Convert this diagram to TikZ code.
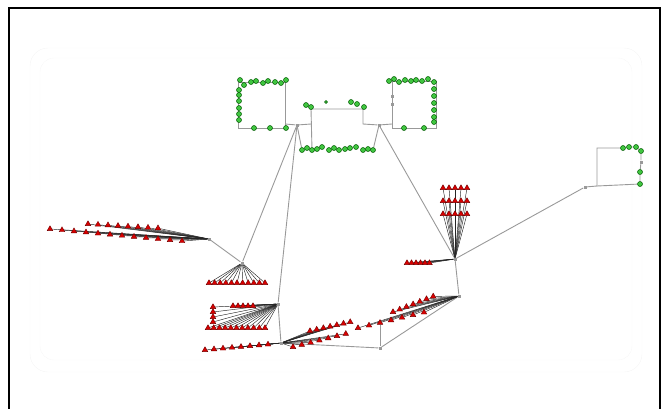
\documentclass[tikz,border=0pt]{standalone}
\usetikzlibrary{shapes,backgrounds}

\begin{document}
\begin{tikzpicture}[x=1pt,y=-1pt,
  gnode/.style={circle,draw=green!35!black,fill=green!70!black!75,line width=0.5pt,inner sep=0pt,minimum size=5pt},
  rnode/.style={regular polygon,regular polygon sides=3,draw=red!45!black,fill=red!85!black,line width=0.4pt,inner sep=0pt,minimum size=6.5pt},
  hub/.style={rectangle,fill=gray!80,inner sep=0pt,minimum size=3pt},
  link/.style={gray!80,line width=0.9pt},
  spoke/.style={black!85,line width=0.45pt},
]
\useasboundingbox (0,0) rectangle (668,408);

% === FRAME ===
\draw[line width=1.3pt] (9,410) -- (9,8) -- (660,8) -- (660,410);
\draw[black!4,rounded corners=18pt] (30,48) rectangle (642,372);
\draw[black!3,rounded corners=14pt] (40,58) rectangle (632,360);

% === TOP GREEN: left box ===
\coordinate (lbox-tl) at (238,82);
\coordinate (lbox-tr) at (285,82);
\coordinate (lbox-br) at (285,128);
\coordinate (lbox-bl) at (238,128);
\coordinate (lbox-j) at (285,124);
\foreach \x/\y [count=\i] in {240/80,244/85,251/82,256/81,263/83,268/81,275/82,281/83,286/80}
  \node[gnode] (lbt-\i) at (\x,\y) {};
\foreach \y [count=\i] in {90,95,101,108,114,120}
  \node[gnode] (lbl-\i) at (239,\y) {};
\foreach \x [count=\i] in {254,270,286}
  \node[gnode] (lbb-\i) at (\x,128) {};

% === TOP GREEN: middle ===
\node[hub] (hub1) at (297,125) {};
\node[hub] (hub2) at (379,125) {};
\coordinate (mj-l) at (311,124);
\coordinate (mj-t) at (311,109);
\coordinate (mj-tr) at (363,109);
\coordinate (mj-r) at (363,124);
\foreach \x/\y [count=\i] in {306/105,311/107,351/102,357/104,364/107}
  \node[gnode] (mt-\i) at (\x,\y) {};
\node[gnode,minimum size=3pt] (mt-6) at (326,102) {};
\foreach \x/\y [count=\i] in {302/150,307/148,312/150,317/149,322/147,329/150,334/148,339/150,345/149,350/148,356/147,363/150,368/149,373/150}
  \node[gnode] (brow-\i) at (\x,\y) {};

% === TOP GREEN: right box ===
\coordinate (rbox-tl) at (392,81);
\coordinate (rbox-tr) at (436,81);
\coordinate (rbox-br) at (436,128);
\coordinate (rbox-bl) at (392,128);
\coordinate (rbox-j) at (392,124);
\foreach \x/\y [count=\i] in {389/81,394/79,399/82,405/80,411/81,416/80,422/81,428/79,434/82}
  \node[gnode] (rbt-\i) at (\x,\y) {};
\foreach \y [count=\i] in {89,96,103,110,117,122}
  \node[gnode] (rbr-\i) at (434,\y) {};
\foreach \x [count=\i] in {404,424}
  \node[gnode] (rbb-\i) at (\x,128) {};
\node[hub] (rbl-1) at (392,96) {};
\node[hub] (rbl-2) at (392,104) {};

% === LEFT RED CLUSTER ===
\node[hub] (lhub) at (209,239) {};
\foreach \i in {0,...,7}
  \node[rnode] (lra-\i) at ({88+10*\i},{224+0.6*\i}) {};
\foreach \i in {0,...,11}
  \node[rnode] (lrb-\i) at ({50+12*\i},{229+1.1*\i}) {};

% === FANS ===
\node[hub] (fan1) at (242,263) {};
\foreach \i in {0,...,10}
  \node[rnode] (fa-\i) at ({209+5.6*\i},283) {};

\node[hub] (fan2) at (278,304) {};
\foreach \x [count=\i] in {233,238,243,248,253}
  \node[rnode] (fbt-\i) at (\x,306) {};
\foreach \y [count=\i] in {307,312,317,322}
  \node[rnode] (fbc-\i) at (213,\y) {};
\foreach \i in {0,...,10}
  \node[rnode] (fbb-\i) at ({208+5.7*\i},328) {};

\node[hub] (fan3) at (455,259) {};
\foreach \c in {0,...,4}
  \foreach \r in {0,...,2}
    \node[rnode] (fc-\c-\r) at ({443+6*\c},{188+13*\r}) {};
\foreach \i in {0,...,5}
  \node[rnode] (fcl-\i) at ({407+4.5*\i},263) {};

% === BOTTOM ===
\node[hub] (bot1) at (281,343) {};
\foreach \i in {0,...,7}
  \node[rnode] (bl-\i) at ({205+9*\i},{350-0.8*\i}) {};
\foreach \i in {0,...,6}
  \node[rnode] (bu-\i) at ({310+6.7*\i},{331-1.5*\i}) {};
\foreach \i in {0,...,6}
  \node[rnode] (bd-\i) at ({293+8.8*\i},{347-2.2*\i}) {};

\node[hub] (mid) at (380,348) {};
\foreach \i in {0,...,6}
  \node[rnode] (rd-\i) at ({358+11*\i},{328-2.6*\i}) {};

\node[hub] (bot2) at (459,296) {};
\foreach \i in {0,...,6}
  \node[rnode] (br-\i) at ({393+6.7*\i},{312-2.6*\i}) {};

% === RIGHT GREEN ===
\node[hub] (rhub) at (585,187) {};
\coordinate (rc-b) at (597,186);
\coordinate (rc-t) at (597,148);
\foreach \x/\y [count=\i] in {623/148,629/147,636/147,641/151}
  \node[gnode] (rg-\i) at (\x,\y) {};
\node[hub] (rg-5) at (641,162) {};
\node[gnode] (rg-6) at (640,172) {};
\node[gnode] (rg-7) at (640,184) {};

% === CONNECTORS ===
\begin{scope}[on background layer]
\draw[link] (lbox-tl) -- (lbox-tr) -- (lbox-br) -- (lbox-bl) -- cycle;
\draw[link] (rbox-tl) -- (rbox-tr) -- (rbox-br) -- (rbox-bl) -- cycle;
\draw[link] (lbox-j) -- (hub1) -- (mj-l);
\draw[link] (brow-3) -- (mj-t) -- (mj-tr) -- (mj-r) -- (hub2) -- (rbox-j);
\draw[link] (mt-2) -- (mj-t);
\draw[link] (mt-5) -- (mj-tr);
\draw[link] (hub1) -- (brow-1);
\draw[link] (hub2) -- (brow-14);
\draw[link] (hub1) -- (fan1);
\draw[link] (hub1) -- (fan2);
\draw[link] (fan2) -- (bot1);
\draw[link] (lhub) -- (fan1);
\draw[link] (bot1) -- (mid) -- (bot2);
\draw[link] (mid) -- (rd-2);
\draw[link] (hub2) -- (fan3);
\draw[link] (fan3) -- (bot2);
\draw[link] (fan3) -- (rhub) -- (rc-b) -- (rc-t) -- (rg-1);
\draw[link] (rg-1) -- (rg-2) -- (rg-3) -- (rg-4) -- (rg-5) -- (rg-6) -- (rg-7) -- (rc-b);

\foreach \i in {0,...,7} \draw[spoke] (lhub) -- (lra-\i);
\foreach \i in {0,...,11} \draw[spoke] (lhub) -- (lrb-\i);
\foreach \i in {0,...,10} \draw[spoke] (fan1) -- (fa-\i);
\foreach \i in {1,...,5} \draw[spoke] (fan2) -- (fbt-\i);
\foreach \i in {1,...,4} \draw[spoke] (fan2) -- (fbc-\i);
\foreach \i in {0,...,10} \draw[spoke] (fan2) -- (fbb-\i);
\foreach \c in {0,...,4}
  \foreach \r in {0,...,2}
    \draw[spoke] (fan3) -- (fc-\c-\r);
\foreach \i in {0,...,5} \draw[spoke] (fan3) -- (fcl-\i);
\foreach \i in {0,...,7} \draw[spoke] (bot1) -- (bl-\i);
\foreach \i in {0,...,6} \draw[spoke] (bot1) -- (bu-\i);
\foreach \i in {0,...,6} \draw[spoke] (bot1) -- (bd-\i);
\foreach \i in {0,...,6} \draw[spoke] (bot2) -- (rd-\i);
\foreach \i in {0,...,6} \draw[spoke] (bot2) -- (br-\i);
\end{scope}

\end{tikzpicture}
\end{document}
